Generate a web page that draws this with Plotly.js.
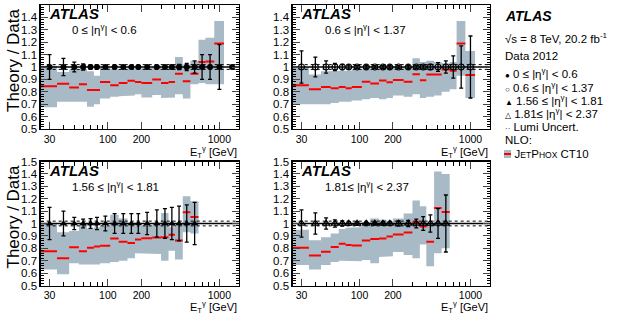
<!DOCTYPE html>
<html><head><meta charset="utf-8">
<script src="https://cdn.plot.ly/plotly-3.0.1.min.js"></script>
<style>html,body{margin:0;padding:0;background:#fff}</style>
</head><body><div id="chart" style="width:630px;height:315px"></div>
<script>
// ---- data ----
const binEdges = [25,35,45,55,65,75,85,105,125,150,175,200,250,300,350,400,470,550,650,750,900,1100,1500];
const xTickVals = [30, 100, 200, 1000];
const xTickText = ['30', '100', '200', '1000'];
const xMinorVals = [40,50,60,70,80,90,300,400,500,600,700,800,900];
const lumiUnc = 0.019;

const regionLabels = ['0 ≤ |η<sup>γ</sup>| < 0.6', '0.6 ≤ |η<sup>γ</sup>| < 1.37', '1.56 ≤ |η<sup>γ</sup>| < 1.81', '1.81≤ |η<sup>γ</sup>| < 2.37'];
const markerSymbols = ['circle', 'circle-open', 'triangle-up', 'triangle-up-open'];

const theory1 = [0.845,0.865,0.835,0.86,0.815,0.815,0.88,0.852,0.87,0.89,0.88,0.87,0.9,0.87,0.88,0.945,0.885,0.945,1.04,1.045,1.19,null];
const bandLo1 = [0.675,0.72,0.725,0.72,0.68,0.70,0.745,0.76,0.765,0.77,0.78,0.755,0.775,0.75,0.755,0.78,0.745,0.86,0.87,0.86,0.86,null];
const bandHi1 = [1.01,0.96,0.98,0.985,0.965,0.93,1.0,0.985,0.98,0.99,0.985,0.99,1.005,0.985,1.0,1.08,1.02,1.05,1.22,1.235,1.37,null];
const err1 = [0.1,0.07,0.04,0.025,0.015,0.012,0.01,0.01,0.01,0.01,0.01,0.01,0.01,0.012,0.015,0.02,0.03,0.05,0.1,0.1,0.18,0.0];

const theory2 = [0.852,0.82,0.838,0.828,0.838,0.828,0.838,0.882,0.866,0.892,0.877,0.895,0.882,0.942,0.893,0.94,0.94,0.98,0.97,1.19,0.935];
const bandLo2 = [0.70,0.70,0.70,0.71,0.72,0.72,0.73,0.74,0.75,0.74,0.75,0.77,0.76,0.78,0.75,0.76,0.77,0.80,0.82,0.93,0.75];
const bandHi2 = [1.0,0.94,0.965,0.97,0.97,0.97,0.975,0.985,0.985,0.99,0.985,1.0,0.99,1.07,1.04,1.05,1.04,1.03,1.04,1.37,1.13];
const err2 = [0.13,0.08,0.05,0.03,0.02,0.015,0.012,0.01,0.01,0.01,0.01,0.01,0.01,0.012,0.015,0.02,0.035,0.05,0.09,0.17,0.25];

const theory3 = [0.776,0.72,0.808,0.776,0.805,0.815,0.82,0.88,0.853,0.843,0.87,0.882,0.887,0.89,0.91,0.862,1.09,1.053];
const bandLo3 = [0.63,0.59,0.68,0.67,0.67,0.67,0.68,0.69,0.70,0.72,0.76,0.755,0.755,0.70,0.78,0.71,0.93,0.92];
const bandHi3 = [1.0,0.93,0.94,0.99,0.96,0.97,0.98,1.07,1.04,1.0,0.98,0.985,0.99,1.085,0.97,0.99,1.22,1.18];
const err3 = [0.13,0.1,0.05,0.035,0.04,0.05,0.06,0.08,0.08,0.08,0.08,0.09,0.11,0.12,0.13,0.14,0.15,0.17];

const theory4 = [0.805,0.742,0.772,0.81,0.837,0.826,0.823,0.863,0.874,0.88,0.895,0.912,0.928,1.008,0.975,0.853,1.125,1.093];
const bandLo4 = [0.665,0.63,0.665,0.69,0.70,0.70,0.695,0.705,0.68,0.73,0.735,0.77,0.745,0.72,0.83,0.655,0.76,0.80];
const bandHi4 = [0.95,0.865,0.89,0.92,0.955,0.965,0.97,1.01,1.04,1.03,1.02,1.04,1.08,1.185,1.14,1.0,1.42,1.40];
const err4 = [0.11,0.085,0.045,0.03,0.02,0.015,0.012,0.01,0.01,0.012,0.015,0.02,0.025,0.035,0.055,0.07,0.12,0.23];

// ---- styling ----
const BAND = '#a9bac7';
const RED = '#ff0000';
const FONT = 'Liberation Sans, Arial, Helvetica, sans-serif';
const W = 630, H = 315;
const panels = [
  {theory: theory1, lo: bandLo1, hi: bandHi1, err: err1, xa: 'x',  ya: 'y'},
  {theory: theory2, lo: bandLo2, hi: bandHi2, err: err2, xa: 'x2', ya: 'y2'},
  {theory: theory3, lo: bandLo3, hi: bandHi3, err: err3, xa: 'x3', ya: 'y3'},
  {theory: theory4, lo: bandLo4, hi: bandHi4, err: err4, xa: 'x4', ya: 'y4'}
];
const xRange = [binEdges[0], binEdges[binEdges.length-1]];

const traces = [];
panels.forEach((p, i) => {
  const n = p.err.length;
  const bx = [], by = [];
  const nb = p.lo.filter(v => v !== null).length;
  for (let k = 0; k < nb; k++) { bx.push(binEdges[k], binEdges[k+1]); by.push(p.hi[k], p.hi[k]); }
  for (let k = nb-1; k >= 0; k--) { bx.push(binEdges[k+1], binEdges[k]); by.push(p.lo[k], p.lo[k]); }
  traces.push({x: bx, y: by, xaxis: p.xa, yaxis: p.ya, type: 'scatter', mode: 'lines', fill: 'toself',
    fillcolor: BAND, line: {width: 0, color: BAND}, hoverinfo: 'skip', showlegend: false});
  traces.push({x: xRange, y: [1, 1], xaxis: p.xa, yaxis: p.ya, mode: 'lines', line: {color: '#000', width: 1.3}, showlegend: false});
  [1 + lumiUnc, 1 - lumiUnc].forEach(v => traces.push({x: xRange, y: [v, v], xaxis: p.xa, yaxis: p.ya, mode: 'lines',
    line: {color: '#000', width: 1, dash: 'dot'}, showlegend: false}));
  const tx = [], ty = [];
  for (let k = 0; k < n; k++) {
    if (p.theory[k] === null) continue;
    tx.push(binEdges[k], binEdges[k+1], null); ty.push(p.theory[k], p.theory[k], null);
  }
  traces.push({x: tx, y: ty, xaxis: p.xa, yaxis: p.ya, mode: 'lines', line: {color: RED, width: 2}, showlegend: false});
  const cx = [], cy = [];
  for (let k = 0; k < n; k++) { cx.push((binEdges[k] + binEdges[k+1]) / 2); cy.push(1); }
  const open = markerSymbols[i].includes('open');
  traces.push({x: cx, y: cy, xaxis: p.xa, yaxis: p.ya, mode: 'markers',
    marker: {symbol: markerSymbols[i], size: i < 2 ? 6 : 6.5, color: '#000', line: {color: '#000', width: open ? 1.2 : 0}},
    error_y: {type: 'data', array: p.err, color: '#000', thickness: 1.3, width: 2}, showlegend: false});
});

const xDomL = [40.7/W, 239/W], xDomR = [292.7/W, 490/W];
const yDomT = [1 - 129/H, 1 - 5/H], yDomB = [1 - 285.5/H, 1 - 161.5/H];

function xAxis(dom, anchor) {
  return {domain: dom, anchor: anchor, type: 'log', range: [Math.log10(xRange[0]), Math.log10(xRange[1])],
    tickmode: 'array', tickvals: xTickVals, ticktext: xTickText, ticks: 'inside', ticklen: 7, tickwidth: 1,
    minor: {tickmode: 'array', tickvals: xMinorVals, ticks: 'inside', ticklen: 4, tickwidth: 1, tickcolor: '#000'},
    showline: true, linecolor: '#000', linewidth: 1.3, mirror: 'allticks', showgrid: false, zeroline: false,
    tickfont: {family: FONT, size: 10.5, color: '#000'}, fixedrange: true};
}
function yAxis(dom, anchor) {
  return {domain: dom, anchor: anchor, range: [0.5, 1.5], tick0: 0.5, dtick: 0.1, ticks: 'inside', ticklen: 7, tickwidth: 1,
    minor: {dtick: 0.02, ticks: 'inside', ticklen: 3.5, tickwidth: 1, tickcolor: '#000'},
    showline: true, linecolor: '#000', linewidth: 1.3, mirror: 'allticks', showgrid: false, zeroline: false,
    tickfont: {family: FONT, size: 11.5, color: '#000'}, fixedrange: true};
}

const annotations = [];
const axPairs = [['x', 'y'], ['x2', 'y2'], ['x3', 'y3'], ['x4', 'y4']];
axPairs.forEach((ap, i) => {
  const xr = ap[0] + ' domain', yr = ap[1] + ' domain';
  annotations.push({xref: xr, yref: yr, x: 0.032, y: 1 - 9/124, xanchor: 'left', yanchor: 'middle', showarrow: false,
    text: '<b><i>ATLAS</i></b>', font: {family: FONT, size: 15, color: '#000'}});
  annotations.push({xref: xr, yref: yr, x: i % 2 === 0 ? 0.148 : 0.152, y: 1 - 24/124, xanchor: 'left', yanchor: 'middle', showarrow: false,
    text: regionLabels[i], font: {family: FONT, size: 11.5, color: '#000'}});
  annotations.push({xref: xr, yref: yr, x: 1.0, y: (i < 2 ? -23 : -21.5)/124, xanchor: 'right', yanchor: 'middle', showarrow: false,
    text: 'E<sub>T</sub><sup>γ</sup> [GeV]', font: {family: FONT, size: 11, color: '#000'}});
});
[[13, 6], [13, 162.5]].forEach(([px, py]) => {
  annotations.push({xref: 'paper', yref: 'paper', x: px/W, y: 1 - py/H, xanchor: 'center', yanchor: 'top', textangle: -90,
    showarrow: false, text: 'Theory / Data', font: {family: FONT, size: 17, color: '#000'}});
});
const legItems = [
  {y: 16, text: '<b><i>ATLAS</i></b>', size: 14},
  {y: 38, text: '√s = 8 TeV, 20.2 fb<sup>-1</sup>', size: 11.5},
  {y: 56, text: 'Data 2012', size: 11.5},
  {y: 73, text: '<span style="font-size:8px">●</span> ' + regionLabels[0], size: 11.5},
  {y: 87, text: '<span style="font-size:8px">○</span> ' + regionLabels[1], size: 11.5},
  {y: 100, text: '<span style="font-size:8px">▲</span> ' + regionLabels[2], size: 11.5},
  {y: 113, text: '<span style="font-size:8px">△</span> ' + regionLabels[3], size: 11.5},
  {y: 127, text: '<span style="font-size:8px">··</span> Lumi Uncert.', size: 11.5},
  {y: 140, text: 'NLO:', size: 11.5},
  {y: 154, text: '&nbsp;&nbsp;&nbsp;J<span style="font-size:8.5px">ET</span>P<span style="font-size:8.5px">HOX</span> CT10', size: 11.5}
];
legItems.forEach(it => annotations.push({xref: 'paper', yref: 'paper', x: 503/W, y: 1 - it.y/H, xanchor: 'left', yanchor: 'middle',
  showarrow: false, text: it.text, font: {family: FONT, size: it.size, color: '#000'}}));

const shapes = [
  {type: 'rect', xref: 'paper', yref: 'paper', x0: 504/W, x1: 511/W, y0: 1 - 158/H, y1: 1 - 150/H, fillcolor: BAND, line: {width: 0}},
  {type: 'line', xref: 'paper', yref: 'paper', x0: 504/W, x1: 511/W, y0: 1 - 154/H, y1: 1 - 154/H, line: {color: RED, width: 2}}
];

const layout = {
  width: W, height: H, margin: {l: 0, r: 0, t: 0, b: 0}, paper_bgcolor: '#fff', plot_bgcolor: '#fff',
  showlegend: false, font: {family: FONT, color: '#000'},
  xaxis: xAxis(xDomL, 'y'), yaxis: yAxis(yDomT, 'x'),
  xaxis2: xAxis(xDomR, 'y2'), yaxis2: yAxis(yDomT, 'x2'),
  xaxis3: xAxis(xDomL, 'y3'), yaxis3: yAxis(yDomB, 'x3'),
  xaxis4: xAxis(xDomR, 'y4'), yaxis4: yAxis(yDomB, 'x4'),
  annotations: annotations, shapes: shapes
};
Plotly.newPlot('chart', traces, layout, {staticPlot: true, displayModeBar: false});
</script></body></html>
